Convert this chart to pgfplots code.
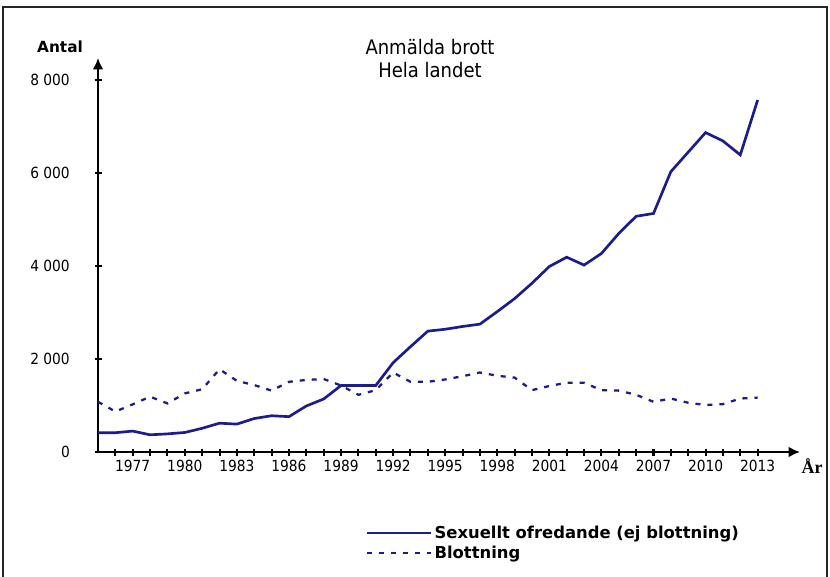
\documentclass[border=0pt]{standalone}
\usepackage{pgfplots}
\pgfplotsset{compat=1.18}
\usetikzlibrary{arrows.meta}
\usepackage{fontspec}
\setmainfont{DejaVu Sans}
\newfontfamily\cond{DejaVu Sans Condensed}
\newfontfamily\tnr{Liberation Serif}
\definecolor{navy}{RGB}{28,28,140}
\pgfplotstableread{
year sex blott
1975 415 1080
1976 415 870
1977 450 1025
1978 370 1190
1979 390 1045
1980 420 1260
1981 510 1350
1982 620 1780
1983 600 1530
1984 720 1440
1985 780 1320
1986 760 1510
1987 990 1550
1988 1140 1570
1989 1430 1430
1990 1430 1230
1991 1430 1330
1992 1920 1710
1993 2265 1510
1994 2600 1510
1995 2640 1560
1996 2700 1630
1997 2750 1710
1998 3020 1640
1999 3300 1600
2000 3630 1330
2001 3990 1420
2002 4190 1490
2003 4020 1490
2004 4270 1330
2005 4700 1320
2006 5070 1230
2007 5130 1080
2008 6030 1150
2009 6450 1060
2010 6870 1010
2011 6690 1030
2012 6390 1150
2013 7570 1170
}\datatable
\begin{document}
\begin{tikzpicture}[x=1pt,y=1pt]
\path[use as bounding box] (0,0) rectangle (622.5,432);
\draw[line width=1.1pt, black!85] (2.25,-2) -- (2.25,426.75) -- (620.25,426.75) -- (620.25,-2);
\begin{axis}[
  at={(73.5pt,93pt)}, anchor=south west,
  scale only axis, width=526.5pt, height=295.5pt,
  xmin=1975, xmax=2015.44, ymin=0, ymax=8474,
  axis lines=left,
  axis line style={line width=1.5pt, -{Latex[length=8.5pt,width=8pt]}},
  tick align=center,
  major tick length=5.25pt, minor tick length=5.25pt,
  every tick/.style={line width=1.5pt, black},
  xtick={1977,1980,...,2013},
  xticklabels={1977,1980,1983,1986,1989,1992,1995,1998,2001,2004,2007,2010,2013},
  minor xtick={1976,...,2013},
  ytick={0,2000,4000,6000,8000},
  yticklabels={0,2 000,4 000,6 000,8 000},
  ticklabel style={font=\cond\fontsize{11.5}{13}\selectfont},
  yticklabel style={xshift=-15pt},
  clip=false,
  legend style={draw=none, fill=none, at={(0.3746,-0.1727)}, anchor=north west,
    font=\bfseries\fontsize{12.3}{14}\selectfont, row sep=0.5pt},
  legend cell align=left,
  legend image code/.code={\draw[#1] (0pt,0pt) -- (48pt,0pt);},
]
\addplot[navy, line width=2pt] table[x=year, y=sex] {\datatable};
\addlegendentry{Sexuellt ofredande (ej blottning)}
\addplot[navy, line width=1.7pt, dash pattern=on 3.75pt off 5.25pt] table[x=year, y=blott] {\datatable};
\addlegendentry{Blottning}
\end{axis}
\node[font=\cond\fontsize{15}{17.25}\selectfont, align=center] at (322.5,388.1) {Anmälda brott\\Hela landet};
\node[font=\bfseries\fontsize{11.5}{13}\selectfont] at (45,396.75) {Antal};
\node[font=\tnr\bfseries\fontsize{13.5}{14}\selectfont] at (609,82.5) {År};
\end{tikzpicture}
\end{document}
